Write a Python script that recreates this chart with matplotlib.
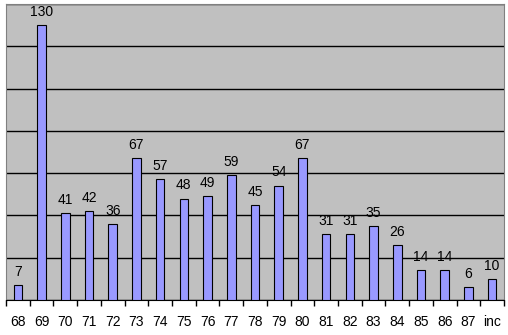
import matplotlib
matplotlib.use("Agg")
import matplotlib.pyplot as plt
import numpy as np

categories = ["68", "69", "70", "71", "72", "73", "74", "75", "76", "77", "78",
              "79", "80", "81", "82", "83", "84", "85", "86", "87", "inc"]
values = [7, 130, 41, 42, 36, 67, 57, 48, 49, 59, 45, 54, 67, 31, 31, 35, 26, 14, 14, 6, 10]

plt.rcParams['font.family'] = ['Liberation Sans', 'DejaVu Sans']

fig = plt.figure(figsize=(5.08, 3.35), dpi=100)
ax = fig.add_axes([6/508, 35/335, 498/508, 296/335])
ax.set_facecolor('#C0C0C0')

x = np.arange(len(categories))
ax.bar(x, values, width=0.36, color='#9999FF', edgecolor='black', linewidth=0.8, zorder=3)
for xi, v in zip(x, values):
    ax.text(xi, v + 3, str(v), ha='center', va='bottom', fontsize=10, zorder=4)

ax.set_ylim(0, 140)
ax.set_xlim(-0.5, len(categories) - 0.5)
ax.set_yticks(np.arange(0, 141, 20))
ax.yaxis.grid(True, color='black', linewidth=1, zorder=1)
ax.set_axisbelow(True)
ax.tick_params(axis='y', left=False, labelleft=False)

ax.set_xticks(x)
ax.set_xticklabels(categories, fontsize=10)
ax.tick_params(axis='x', length=0, pad=11)
ax.set_xticks(np.arange(-0.5, len(categories), 1), minor=True)
ax.tick_params(axis='x', which='minor', length=4, width=1, color='black', direction='out')

for s in ['top', 'right', 'left']:
    ax.spines[s].set_color('#808080')
ax.spines['bottom'].set_color('black')

fig.savefig('out.png', dpi=100)
